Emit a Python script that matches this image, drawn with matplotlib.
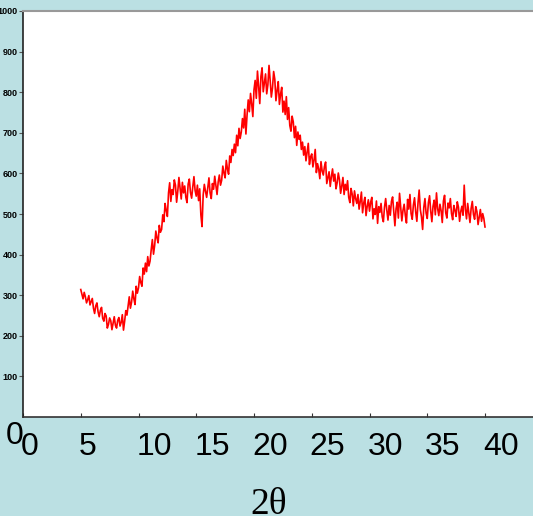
import matplotlib
matplotlib.use('Agg')
import matplotlib.pyplot as plt
import matplotlib.transforms as mtransforms
import numpy as np

# diffraction scan, 2theta from 5 to 40 deg in 0.1 deg steps
two_theta_start = 5.0
two_theta_step = 0.1
counts = [
    314, 302, 291, 307, 296, 281, 289, 299, 276, 284,
    292, 268, 255, 274, 281, 259, 247, 263, 270, 243,
    236, 255, 249, 219, 228, 244, 237, 215, 231, 247,
    226, 219, 238, 245, 224, 233, 252, 214, 236, 262,
    251, 274, 296, 268, 283, 310, 291, 277, 322, 305,
    318, 346, 331, 322, 367, 352, 379, 358, 395, 372,
    384, 412, 437, 401, 423, 458, 441, 429, 472, 455,
    462, 498, 481, 526, 509, 494, 552, 577, 531, 560,
    548, 584, 571, 529, 556, 590, 563, 537, 578, 552,
    569, 541, 528, 574, 586, 553, 539, 567, 592, 558,
    544, 571, 533, 562, 498, 469, 547, 573, 556, 541,
    566, 589, 552, 538, 575, 561, 593, 570, 548, 579,
    596, 571, 583, 618, 601, 589, 632, 611, 598, 643,
    627, 659, 644, 672, 651, 694, 668, 711, 686, 702,
    735, 712, 758, 697, 744, 781, 752, 797, 771, 740,
    806, 829, 785, 852, 814, 772, 839, 860, 801, 823,
    845, 796, 818, 866, 829, 788, 810, 851, 832, 779,
    804, 826, 770, 795, 812, 751, 778, 745, 789, 733,
    762, 718, 704, 741, 727, 688, 716, 669, 702, 684,
    694, 659, 677, 645, 666, 631, 653, 674, 622, 641,
    648, 616, 633, 659, 602, 624, 611, 587, 629, 606,
    596, 617, 628, 575, 589, 604, 568, 592, 611, 581,
    598, 562, 577, 601, 584, 551, 569, 590, 548, 573,
    559, 582, 541, 528, 563, 549, 520, 557, 538, 526,
    548, 512, 531, 554, 503, 527, 541, 496, 519, 535,
    507, 529, 541, 488, 513, 499, 532, 477, 518, 504,
    526, 493, 481, 517, 538, 509, 485, 521, 497, 531,
    542, 506, 471, 513, 529, 490, 551, 518, 483, 509,
    524, 497, 478, 536, 512, 548, 501, 487, 522, 540,
    505, 482, 527, 559, 511, 493, 462, 516, 538, 502,
    489, 528, 545, 507, 481, 519, 534, 498, 552, 513,
    496, 524, 508, 479, 532, 546, 503, 490, 527, 515,
    538, 501, 486, 521, 509, 494, 530, 517, 482, 506,
    519, 497, 571, 512, 488, 526, 503, 479, 514, 531,
    499, 487, 518, 506, 474, 493, 511, 482, 501, 489,
    468,
]
x_ticks = [0, 5, 10, 15, 20, 25, 30, 35, 40]
y_ticks = [100, 200, 300, 400, 500, 600, 700, 800, 900, 1000]

two_theta = two_theta_start + two_theta_step * np.arange(len(counts))

bg = '#bbe0e3'
fig = plt.figure(figsize=(5.33, 5.16), dpi=100, facecolor=bg)
ax = fig.add_axes([23 / 533, 99 / 516, 1 - 23 / 533, 406 / 516])
ax.set_facecolor('white')

ax.plot(two_theta, counts, color='#ff0000', lw=1.2)

ax.set_xlim(0, 510 / 11.55)
ax.set_ylim(0, 1000)

ax.spines['right'].set_visible(False)
ax.spines['top'].set_color('#999999')
ax.spines['top'].set_linewidth(1.5)
ax.spines['left'].set_color('#222222')
ax.spines['left'].set_linewidth(1.2)
ax.spines['bottom'].set_color('#333333')
ax.spines['bottom'].set_linewidth(1.2)

ax.set_xticks(x_ticks)
ax.set_xticklabels([str(t) for t in x_ticks], fontsize=23, family='Liberation Sans')
ax.tick_params(axis='x', direction='in', length=3, width=0.8, color='#333333', pad=11)
shift = mtransforms.ScaledTranslation(-2 / 100, 0, fig.dpi_scale_trans)
for lab in ax.get_xticklabels():
    lab.set_horizontalalignment('left')
    lab.set_transform(lab.get_transform() + shift)

ax.set_yticks(y_ticks)
ax.set_yticklabels([str(t) for t in y_ticks], fontsize=6.5, fontweight='bold',
                   family='Liberation Sans')
ax.tick_params(axis='y', direction='out', length=3, width=0.8, color='#555555', pad=1)

# the big zero of the y axis, sitting over the x axis zero
fig.text(15 / 533, 1 - 436 / 516, '0', fontsize=23, family='Liberation Sans',
         ha='center', va='center')

fig.text(269 / 533, 1 - 487 / 516, '2\u03b8', fontsize=27, family='Liberation Serif',
         ha='center', va='top')

fig.savefig('out.png', dpi=100, facecolor=bg)
